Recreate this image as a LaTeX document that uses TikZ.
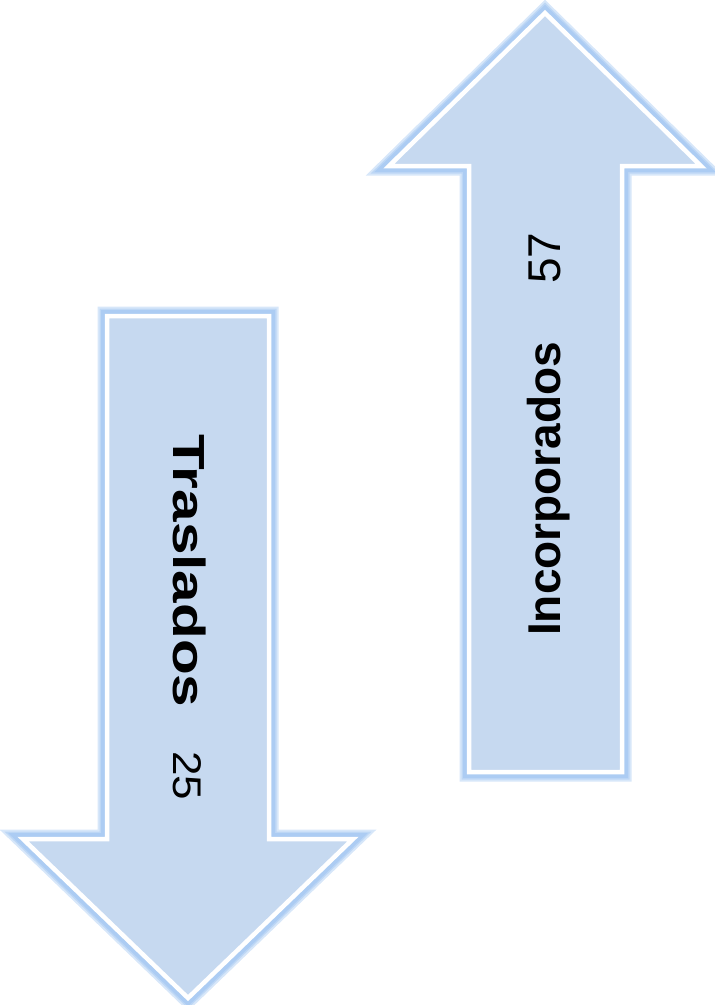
\documentclass[tikz,border=0pt]{standalone}
\usepackage{fontspec}
\setmainfont{Liberation Sans}
\definecolor{arrowfill}{HTML}{C6D9F0}
\definecolor{arrowglow}{HTML}{8DB9EE}
\tikzset{
  glow/.style={draw=arrowglow, line width=#1, draw opacity=.35, line join=miter},
  arrowbody/.style={fill=arrowfill, draw=white, line width=4.5pt, line join=miter},
  arrowtext/.style={inner sep=0pt, anchor=base west}
}
\begin{document}
\begin{tikzpicture}[x=1pt,y=-1pt]
    \useasboundingbox (0,0) rectangle (715,1005);

    % up arrow: Incorporados
    \begin{scope}
    \foreach \w in {19,15,12}
      \draw[glow=\w pt] (469,772) -- (469,166) -- (389,166) -- (545,13) -- (701,166) -- (622,166) -- (622,772) -- cycle;
    \draw[arrowbody] (469,772) -- (469,166) -- (389,166) -- (545,13) -- (701,166) -- (622,166) -- (622,772) -- cycle;
    \node[arrowtext, rotate=90, font=\fontsize{46}{50}\selectfont\bfseries] (incorp) at (560,636) {Incorporados};
    \node[arrowtext, rotate=90, font=\fontsize{46}{50}\selectfont] (incorpnum) at (560,284) {57};
    \end{scope}

    % down arrow: Traslados
    \begin{scope}
    \foreach \w in {19,15,12}
      \draw[glow=\w pt] (107,316) -- (269,316) -- (269,839) -- (353,839) -- (188,998) -- (23,839) -- (107,839) -- cycle;
    \draw[arrowbody] (107,316) -- (269,316) -- (269,839) -- (353,839) -- (188,998) -- (23,839) -- (107,839) -- cycle;
    \node[arrowtext, rotate=-90, font=\fontsize{45}{50}\selectfont\bfseries] (trasl) at (173,434) {\scalebox{1.3}[1]{Traslados}};
    \node[arrowtext, rotate=-90, font=\fontsize{40}{44}\selectfont] (traslnum) at (173,751) {\scalebox{1.1}[1]{25}};
    \end{scope}
\end{tikzpicture}
\end{document}
